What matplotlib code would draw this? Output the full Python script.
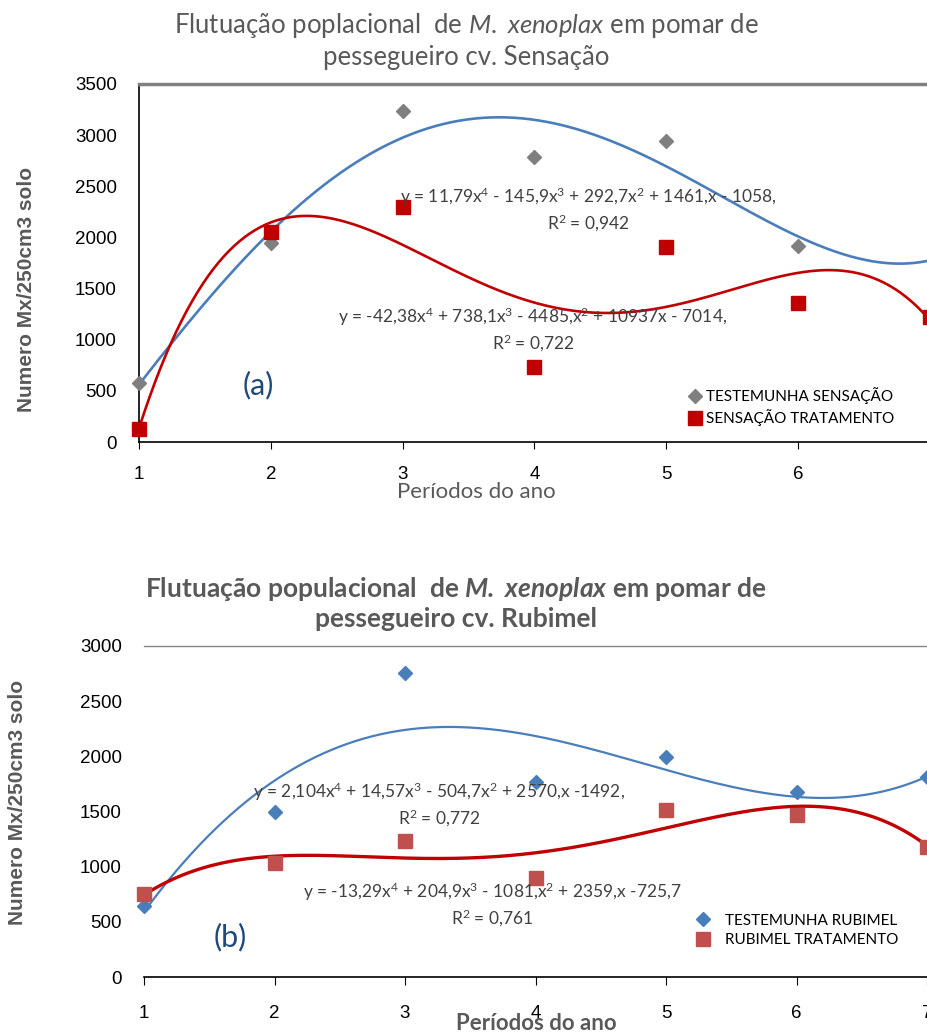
import numpy as np
import matplotlib.pyplot as plt

plt.rcParams['font.family'] = ['Lato', 'DejaVu Sans']
plt.rcParams['mathtext.fontset'] = 'custom'
plt.rcParams['mathtext.rm'] = 'Lato'
plt.rcParams['mathtext.it'] = 'Lato:italic'
plt.rcParams['mathtext.bf'] = 'Lato:bold'
plt.rcParams['mathtext.bfit'] = 'Lato:bold:italic'

# --- Data ---
periodos = [1, 2, 3, 4, 5, 6, 7]

# (a) Sensacao
sens_testemunha_x = [1, 2, 3, 4, 5, 6]
sens_testemunha = [580, 1950, 3240, 2790, 2940, 1920]
sens_tratamento = [130, 2050, 2300, 730, 1905, 1360, 1225]
# trendline coefficients printed on the chart (degree 4, highest first)
sens_test_coef = [11.79, -145.9, 292.7, 1461, -1058]
sens_trat_coef = [-42.38, 738.1, -4485, 10937, -7014]

# (b) Rubimel
rub_testemunha = [645, 1495, 2755, 1765, 1995, 1675, 1810]
rub_tratamento = [755, 1035, 1230, 900, 1510, 1465, 1180]
rub_test_coef = [2.104, 14.57, -504.7, 2570, -1492]
rub_trat_coef = [-13.29, 204.9, -1081, 2359, -725.7]

W, H = 927, 1035
fig = plt.figure(figsize=(W / 100, H / 100), dpi=100)

GRAY_TXT = '#595959'
EQ_COL = '#404040'
TICK_FAMILY = ['Liberation Sans', 'DejaVu Sans']
TICK_SIZE = 13.5


def fx(px):
    return px / W


def fy(py):
    return 1 - py / H


xs = np.linspace(1, 7, 300)

# ---------------- Panel (a) ----------------
ax1 = fig.add_axes([fx(139), fy(442), fx(927 - 139), fy(84) - fy(442)])
ax1.plot(xs, np.polyval(sens_test_coef, xs), color='#4a7ebb', lw=1.9, zorder=2)
ax1.plot(xs, np.polyval(sens_trat_coef, xs), color='#c00000', lw=1.9, zorder=2)
ax1.plot(sens_testemunha_x, sens_testemunha, 'D', color='#7f7f7f', ms=7,
         ls='none', zorder=3, label='TESTEMUNHA SENSAÇÃO', clip_on=False)
ax1.plot(periodos, sens_tratamento, 's', color='#c00000', ms=10,
         ls='none', zorder=3, label='SENSAÇÃO TRATAMENTO', clip_on=False)
ax1.set_xlim(1, 6.98)
ax1.set_ylim(0, 3500)
ax1.set_yticks(range(0, 3501, 500))
ax1.set_xticks(range(1, 7))
ax1.spines['right'].set_visible(False)
ax1.spines['top'].set_color('#808080')
ax1.spines['top'].set_linewidth(2.5)
ax1.spines['left'].set_linewidth(1.2)
ax1.spines['bottom'].set_linewidth(1.2)
ax1.tick_params(axis='y', length=0, pad=16)
ax1.tick_params(axis='x', length=5, direction='out', pad=12)
for lab in ax1.get_xticklabels() + ax1.get_yticklabels():
    lab.set_fontfamily(TICK_FAMILY)
    lab.set_fontsize(TICK_SIZE)

ax1.legend(loc='upper left', bbox_to_anchor=(fx(680 - 139) / fx(788), 0.17),
           frameon=False, fontsize=11, handletextpad=0.1,
           handlelength=1.2, labelspacing=0.35, borderaxespad=0)

fig.text(fx(588), fy(210), 'y = 11,79x$\\mathregular{^4}$ - 145,9x$\\mathregular{^3}$ + 292,7x$\\mathregular{^2}$ + 1461,x - 1058,\nR$\\mathregular{^2}$ = 0,942',
         fontsize=12.5, color=EQ_COL, ha='center', va='center', linespacing=1.3)
fig.text(fx(533), fy(330), 'y = -42,38x$\\mathregular{^4}$ + 738,1x$\\mathregular{^3}$ - 4485,x$\\mathregular{^2}$ + 10937x - 7014,\nR$\\mathregular{^2}$ = 0,722',
         fontsize=12.5, color=EQ_COL, ha='center', va='center', linespacing=1.3)
fig.text(fx(258), fy(385), '(a)', fontsize=22, color='#1f497d', ha='center', va='center')

fig.text(fx(466), fy(40), 'Flutuação poplacional  de $\\mathit{M.}$ $\\mathit{xenoplax}$ em pomar de\npessegueiro cv. Sensação',
         fontsize=18.5, color=GRAY_TXT, ha='center', va='center', linespacing=1.25)
fig.text(fx(476), fy(492), 'Períodos do ano', fontsize=16, color=GRAY_TXT, ha='center', va='center')
fig.text(fx(27), fy(289), 'Numero Mx/250cm3 solo', rotation=90, fontsize=15,
         fontweight='bold', color=GRAY_TXT, ha='center', va='center',
         family=TICK_FAMILY)

# ---------------- Panel (b) ----------------
ax2 = fig.add_axes([fx(144), fy(977), fx(927 - 144), fy(646) - fy(977)])
ax2.plot(xs, np.polyval(rub_test_coef, xs), color='#4a7ebb', lw=1.6, zorder=2)
ax2.plot(xs, np.polyval(rub_trat_coef, xs), color='#c00000', lw=2.4, zorder=2)
ax2.plot(periodos, rub_testemunha, 'D', color='#4a7ebb', ms=7,
         ls='none', zorder=3, label='TESTEMUNHA RUBIMEL', clip_on=False)
ax2.plot(periodos, rub_tratamento, 's', color='#c0504d', ms=10,
         ls='none', zorder=3, label='RUBIMEL TRATAMENTO', clip_on=False)
ax2.set_xlim(1, 7)
ax2.set_ylim(0, 3000)
ax2.set_yticks(range(0, 3001, 500))
ax2.set_xticks(periodos)
ax2.spines['right'].set_visible(False)
ax2.spines['left'].set_visible(False)
ax2.spines['top'].set_color('#868686')
ax2.spines['top'].set_linewidth(1.0)
ax2.spines['bottom'].set_linewidth(1.2)
ax2.tick_params(axis='y', length=0, pad=16)
ax2.tick_params(axis='x', length=6, direction='out', pad=14)
for lab in ax2.get_xticklabels() + ax2.get_yticklabels():
    lab.set_fontfamily(TICK_FAMILY)
    lab.set_fontsize(TICK_SIZE)

ax2.legend(loc='upper left', bbox_to_anchor=(fx(688 - 144) / fx(783), 0.21),
           frameon=False, fontsize=11, handletextpad=0.8,
           handlelength=1.2, labelspacing=0.35, borderaxespad=0)

fig.text(fx(439), fy(805), 'y = 2,104x$\\mathregular{^4}$ + 14,57x$\\mathregular{^3}$ - 504,7x$\\mathregular{^2}$ + 2570,x -1492,\nR$\\mathregular{^2}$ = 0,772',
         fontsize=12.5, color=EQ_COL, ha='center', va='center', linespacing=1.3)
fig.text(fx(492), fy(905), 'y = -13,29x$\\mathregular{^4}$ + 204,9x$\\mathregular{^3}$ - 1081,x$\\mathregular{^2}$ + 2359,x -725,7\nR$\\mathregular{^2}$ = 0,761',
         fontsize=12.5, color=EQ_COL, ha='center', va='center', linespacing=1.3)
fig.text(fx(230), fy(937), '(b)', fontsize=22, color='#1f497d', ha='center', va='center')

fig.text(fx(456), fy(603), 'Flutuação populacional  de $\\mathbfit{M.}$ $\\mathbfit{xenoplax}$ em pomar de\npessegueiro cv. Rubimel',
         fontsize=19, fontweight='bold', color=GRAY_TXT, ha='center', va='center', linespacing=1.2)
fig.text(fx(536), fy(1023), 'Períodos do ano', fontsize=16, fontweight='bold', color=GRAY_TXT,
         ha='center', va='center')
fig.text(fx(18), fy(802), 'Numero Mx/250cm3 solo', rotation=90, fontsize=15,
         fontweight='bold', color=GRAY_TXT, ha='center', va='center',
         family=TICK_FAMILY)

fig.savefig('out.png', dpi=100)
